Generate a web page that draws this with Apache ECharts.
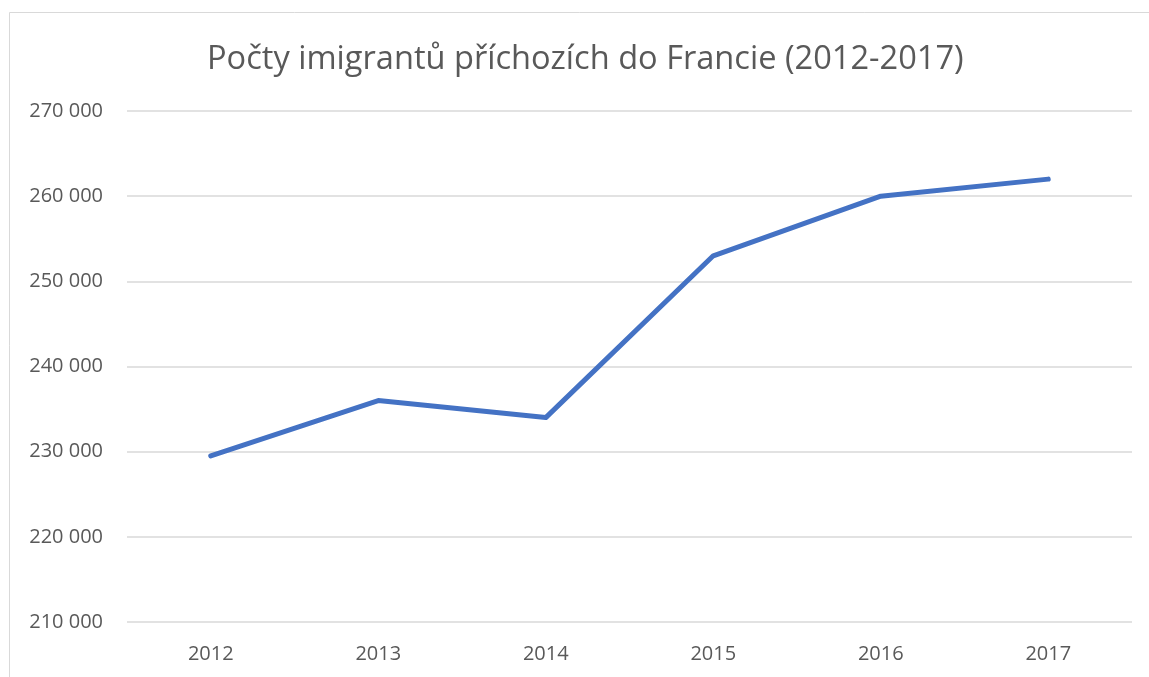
<!DOCTYPE html>
<html>
<head>
<meta charset="utf-8">
<script src="https://cdn.jsdelivr.net/npm/echarts@6/dist/echarts.min.js"></script>
<style>
html,body{margin:0;padding:0;background:#fff;}
#chart{width:1149px;height:677px;}
</style>
</head>
<body>
<div id="chart"></div>
<script>
const titleText = 'Počty imigrantů příchozích do Francie (2012-2017)';
const years = ['2012', '2013', '2014', '2015', '2016', '2017'];
const immigrants = [229500, 236000, 234000, 253000, 260000, 262000];
const yMin = 210000;
const yMax = 270000;
const yStep = 10000;

const chart = echarts.init(document.getElementById('chart'));
const fmt = v => String(v).replace(/\B(?=(\d{3})+(?!\d))/g, ' ');
chart.setOption({
  animation: false,
  backgroundColor: '#fff',
  graphic: [{
    type: 'rect', silent: true,
    shape: {x: 9.5, y: 12.5, width: 1300, height: 800},
    style: {fill: 'none', stroke: '#d9d9d9', lineWidth: 1}
  }],
  title: {
    text: titleText,
    left: 202,
    top: 38,
    textStyle: {fontFamily: 'Open Sans', fontSize: 32.6, fontWeight: 'normal', color: '#595959'}
  },
  grid: {left: 127, right: 17, top: 111, bottom: 55, containLabel: false},
  xAxis: {
    type: 'category',
    data: years,
    boundaryGap: true,
    axisLine: {show: false},
    axisTick: {show: false},
    axisLabel: {fontFamily: 'Open Sans', fontSize: 20, color: '#595959', margin: 22}
  },
  yAxis: {
    type: 'value',
    min: yMin, max: yMax, interval: yStep,
    axisLine: {show: false},
    axisTick: {show: false},
    splitLine: {lineStyle: {color: '#d9d9d9', width: 1.5}},
    axisLabel: {fontFamily: 'Open Sans', fontSize: 20, color: '#595959', margin: 24, formatter: fmt}
  },
  series: [{
    type: 'line',
    data: immigrants,
    symbol: 'none',
    lineStyle: {color: '#4472C4', width: 5, cap: 'round', join: 'round'}
  }]
});
</script>
</body>
</html>
